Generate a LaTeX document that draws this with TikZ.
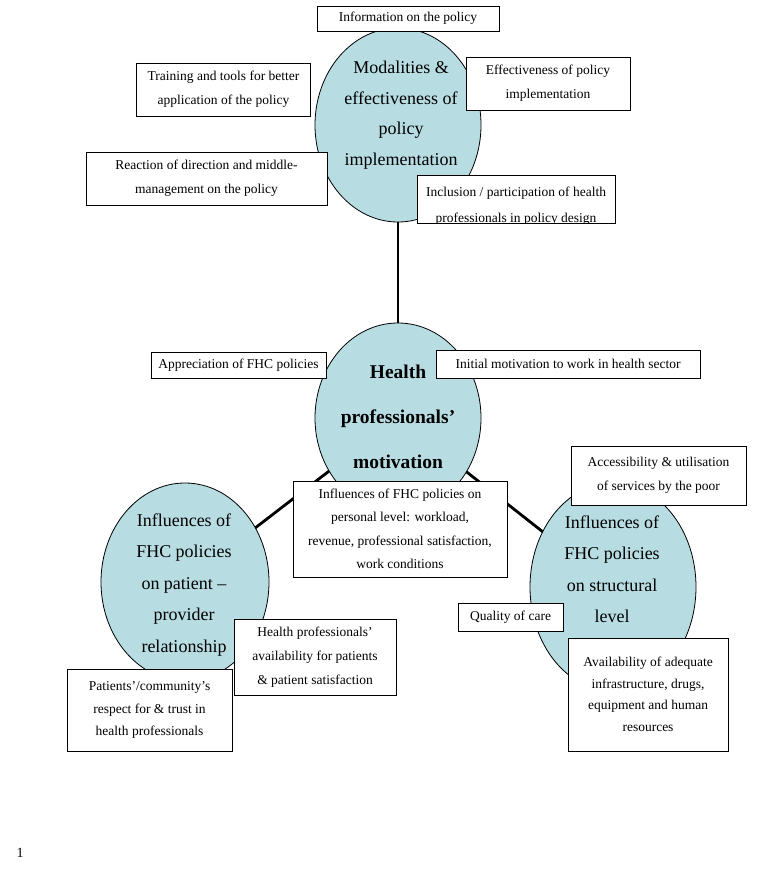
\documentclass[tikz,border=0pt]{standalone}
\usepackage{fontspec}
\setmainfont{Liberation Serif}
\definecolor{ellfill}{RGB}{183,221,227}
\begin{document}
\begin{tikzpicture}[x=1pt,y=-1pt,
  ellshape/.style={fill=ellfill, draw=black, line width=0.8pt},
  box/.style={draw=black, line width=0.8pt, fill=white, inner sep=0pt, align=center,
    font=\fontsize{13.5}{24}\selectfont},
  etext/.style={align=center, inner sep=0pt, font=\fontsize{18}{31}\selectfont},
  link/.style={line width=2.8pt}]
\useasboundingbox[fill=white] (0,0) rectangle (760,869);
\coordinate (ctop) at (398,125);
\coordinate (cmid) at (398,418);
\coordinate (cleft) at (185,582);
\coordinate (cright) at (613,587);
\draw[link] (ctop) -- (cmid);
\draw[link] (cmid) -- (cleft);
\draw[link] (cmid) -- (cright);
\path[ellshape] (ctop) ellipse [x radius=83, y radius=97];
\path[ellshape] (cmid) ellipse [x radius=83, y radius=95];
\path[ellshape] (cleft) ellipse [x radius=84, y radius=99];
\path[ellshape] (cright) ellipse [x radius=83, y radius=104];
\node[etext, font=\fontsize{18}{30.5}\selectfont] (ttop) at (401,115) {Modalities \&\\effectiveness of\\policy\\implementation};
\node[etext, font=\fontsize{19.5}{45}\bfseries\selectfont] (tmid) at (398,417) {Health\\professionals'\\motivation};
\node[etext, font=\fontsize{18}{31.5}\selectfont] (tleft) at (184,585) {Influences of\\FHC policies\\on patient --\\provider\\relationship};
\node[etext, font=\fontsize{18}{31.5}\selectfont] (tright) at (612,569) {Influences of\\FHC policies\\on structural\\level};
% boxes
\node[box, minimum width=182, minimum height=25] (info) at (408,18.5) {Information on the policy};
\node[box, minimum width=174, minimum height=53] (train) at (223.5,89.5) {Training and tools for better\\application of the policy};
\node[box, minimum width=164, minimum height=53] (effect) at (548,83.5) {Effectiveness of policy\\implementation};
\node[box, minimum width=241, minimum height=53] (react) at (206.5,178.5) {Reaction of direction and middle-\\management on the policy};
\node[box, minimum width=198, minimum height=48] (incl) at (516,199) {};
\begin{scope}
\clip (417,175) rectangle (615,222);
\node[box, draw=none, fill=none, font=\fontsize{13.5}{26.5}\selectfont] (incltext) at (516,206) {Inclusion / participation of health\\professionals in policy design};
\end{scope}
\node[box, minimum width=175, minimum height=26] (appr) at (238.5,365) {Appreciation of FHC policies};
\node[box, minimum width=264, minimum height=28] (init) at (568,364) {Initial motivation to work in health sector};
\node[box, minimum width=214, minimum height=96, font=\fontsize{13.5}{23.5}\selectfont] (pers) at (400,529) {Influences of FHC policies on\\personal level: workload,\\revenue, professional satisfaction,\\work conditions};
\node[box, minimum width=175, minimum height=59] (access) at (658.5,475.5) {Accessibility \& utilisation\\of services by the poor};
\node[box, minimum width=162, minimum height=76] (hpav) at (315,657) {Health professionals'\\availability for patients\\\& patient satisfaction};
\node[box, minimum width=165, minimum height=82, font=\fontsize{13.5}{22.5}\selectfont] (resp) at (149.5,710) {Patients'/community's\\respect for \& trust in\\health professionals};
\node[box, minimum width=105, minimum height=28] (qual) at (510.5,617) {Quality of care};
\node[box, minimum width=160, minimum height=113, font=\fontsize{13.5}{21.5}\selectfont] (avail) at (648,694.5) {Availability of adequate\\infrastructure, drugs,\\equipment and human\\resources};
\node[font=\fontsize{14}{16}\selectfont, inner sep=0pt] (pnum) at (20,853) {1};
\end{tikzpicture}
\end{document}
